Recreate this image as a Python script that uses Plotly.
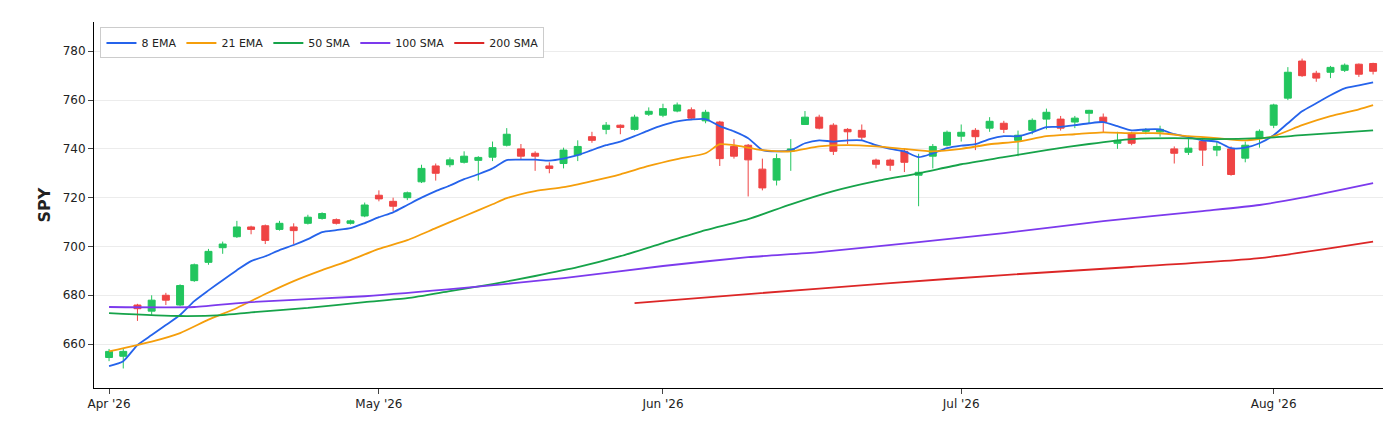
import plotly.graph_objects as go

opens = [654.5,655,676,673.5,680,676,686,693.5,699.5,704,708,708.5,707,708,709.5,711.5,711,709.5,712.5,721,
718.5,720,726.5,733,733.5,734.5,735.3,736.6,741.5,740,738.2,733,734,737.5,745,748,749.7,748,754.2,753.8,
755.5,756,751.5,751,741,741.5,731.7,727.2,739,750,753,749.7,748,747.6,735.4,735.4,739,729.2,737,741.5,
745.2,747.6,748.5,750.5,743.5,747.6,752.2,752.2,751,754.6,753,742.3,746.4,747.2,747,740,738.6,743,739.5,740,
736.2,744.4,749.7,760.8,776,771,771.4,772.2,774.7,775]
closes = [657,657,674.5,678,678,684,692.5,698,701,708,707,702.5,709.5,706.5,712,713.5,709.5,710.5,717,719.5,
716.5,722,732,730,735.5,737,736.5,740.5,746,737,737,732,739.5,741,743.5,749.7,748.8,753,755.4,756.5,
758,752.6,755,736,737,735.5,724,736,740,753,748.5,739,747,744.8,733.7,733.3,734.5,730.4,741,746.8,
746.8,745,751.3,748,745.6,751.7,755,748.5,752.6,755.8,751,743.5,742.3,747.8,748,738.2,740.3,739.5,741,729.5,
741.5,747.2,758,771.4,770,769,773.4,774.3,770.6,771.8]
highs = [658,658,676.5,680,681,684.5,693,699,702,710.5,708.5,709,710.5,709.5,713,714,711.5,711,718,723,
720,722.5,733.5,734,736.5,739,737,743,748.5,742,739,734.5,740.5,743.5,747,751,750,754,757,758.5,
759,757,756,751.5,744,742,736,738,744,755.5,754,750.5,748.5,750,736,736,740,738,742,747.5,
750,748.5,753,751.5,747.5,752.5,756.5,753.5,753.5,756,754.5,747,747,748.5,749.5,741,744,744,743,741,
743,748,758.5,773.5,777,772,774,775,775,775.3]
lows = [653,650,669.5,672,676,675.5,685.5,692.5,697,703.5,705,701,706.5,701,709,711,709,709,712,718.5,
714.5,719,726,727,732.5,734,727,735,741,735.5,731,730,732,735,742.5,746,746,747.5,753.5,753,
755,752,750.5,733,736,720.5,723,725,731,750,748,737.5,742,743.5,732,731,730.5,716.5,732,741,
743,739.5,747,746.5,737,746,748,747.5,748.5,750.5,746.5,740,741.5,746,745,734,737.5,733,737,729,
734.5,740.5,748.5,760,769.5,767.5,769,771.5,769.5,770.5]

ema8 = [651,653,659.6,663.7,667.8,671.9,677.6,682,686.2,690.3,694,696,698.5,700.6,703,705.9,706.7,707.5,709.6,712,
714,717,720,722.7,725,727.6,729.6,732,735.4,735.6,735.6,735.2,736,737.4,739.5,741.5,743,745.2,747.6,749.7,
751.3,752,752.2,749.3,747.2,744.4,739.5,739,739.5,742.3,743.5,743,743.5,743.5,741.5,740,739,736.6,738.2,740.3,
741.3,741.9,744,745.2,745.2,746.8,748.9,749,749.7,750.5,751,749.3,747.6,748,748,746,744.8,743.5,743,740.3,
740.5,742.3,745.6,750.5,755.4,758.7,762,764.8,766,767.3]

ema21_idx = [0,3,5,7,9,11,13,15,17,19,21,23,25,27,28,30,32,34,36,38,40,42,43,44,46,48,50,52,54,56,58,60,
62,64,66,68,70,72,74,76,78,80,82,84,86,88,89]
ema21 = [657,661,664.5,670,674.8,680.5,685.8,690.3,694.4,699,702.6,707.5,712.4,717.3,719.8,722.7,724.3,726.8,729.6,733,735.8,738.2,741.9,
741.5,739.5,739,741,741.5,741,740,739,740,741.9,743,745.2,746,746.8,746.4,746.4,745.2,744.4,743.5,745.2,749.7,753.4,756.2,757.9]

sma50_idx = [0,5,8,10,14,18,21,24,27,30,33,36,39,42,45,48,51,54,57,60,63,66,69,72,75,78,81,84,89]
sma50 = [672.7,671.5,671.9,673,674.8,677.2,678.8,681.7,684.6,687.9,691.5,696,701.4,706.7,711.2,717.3,722.7,726.8,730,733.7,
736.6,739.5,742,744,744.4,744,744.4,745.6,747.6]

sma100_idx = [0,6,10,18,25,32,39,45,50,57,63,70,77,81,84,89]
sma100 = [675.2,675.2,677.2,679.6,683,687,692,695.6,697.7,701.8,705.5,710.4,714.5,717,720,726]

sma200_idx = [37,45,55,63,72,81,89]
sma200 = [676.8,680.5,685,688.3,691.6,695.2,702]

tick_idx = [0,19,39,60,82]
tick_text = ["Apr '26","May '26","Jun '26","Jul '26","Aug '26"]

idx = list(range(len(closes)))
fig = go.Figure()
fig.add_trace(go.Candlestick(x=idx, open=opens, high=highs, low=lows, close=closes,
    increasing=dict(line=dict(color="#22c55e", width=1), fillcolor="#22c55e"),
    decreasing=dict(line=dict(color="#ef4444", width=1), fillcolor="#ef4444"),
    whiskerwidth=0, showlegend=False))
lines = [("8 EMA", idx, ema8, "#2563eb"), ("21 EMA", ema21_idx, ema21, "#f59e0b"),
         ("50 SMA", sma50_idx, sma50, "#16a34a"), ("100 SMA", sma100_idx, sma100, "#7c3aed"),
         ("200 SMA", sma200_idx, sma200, "#dc2626")]
for name, xs, ys, c in lines:
    fig.add_trace(go.Scatter(x=xs, y=ys, mode="lines", name=name,
                             line=dict(color=c, width=1.8, shape="spline", smoothing=0.6)))

fig.update_layout(
    width=1391, height=422, template="plotly_white",
    margin=dict(l=86, r=11, t=14, b=42),
    font=dict(family="DejaVu Sans", size=12, color="#222"),
    legend=dict(orientation="h", x=0.005, y=0.985, xanchor="left", yanchor="top",
                bgcolor="white", bordercolor="#ccc", borderwidth=1, font=dict(size=11)),
    xaxis=dict(range=[-1.06, 90.05], tickvals=tick_idx, ticktext=tick_text, automargin=False,
               showgrid=False, showline=True, linecolor="black", ticks="outside",
               rangeslider=dict(visible=False), zeroline=False),
    yaxis=dict(range=[642, 792], dtick=20, showline=True, linecolor="black", ticks="outside",
               gridcolor="#ececec", zeroline=False, automargin=False,
               title=dict(text="<b>SPY</b>", font=dict(size=16), standoff=8)),
)
fig.write_html("out.html")
